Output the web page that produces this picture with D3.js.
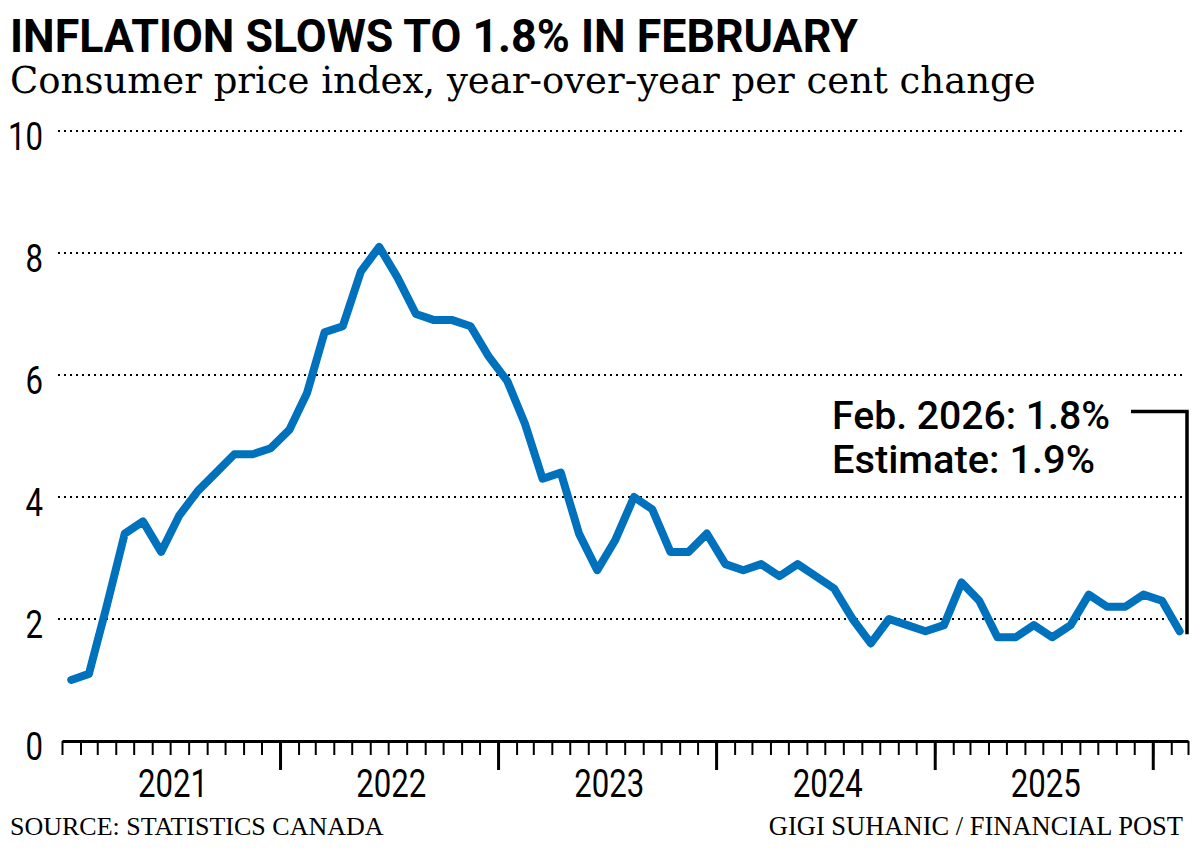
<!DOCTYPE html>
<html>
<head>
<meta charset="utf-8">
<script src="https://cdn.jsdelivr.net/npm/d3@7"></script>
<style>
  body { margin: 0; background: #fff; }
  .sans { font-family: Roboto, "Liberation Sans", sans-serif; }
  .serif { font-family: "Liberation Serif", serif; }
</style>
</head>
<body>
<svg id="chart" width="1200" height="852"></svg>
<script>
// monthly CPI, y/y % change, Jan 2021 .. Feb 2026
const firstMonth = new Date(2021, 0, 1)
const cpi = [
  1.0, 1.1, 2.2, 3.4, 3.6, 3.1, 3.7, 4.1, 4.4, 4.7, 4.7, 4.8,
  5.1, 5.7, 6.7, 6.8, 7.7, 8.1, 7.6, 7.0, 6.9, 6.9, 6.8, 6.3,
  5.9, 5.2, 4.3, 4.4, 3.4, 2.8, 3.3, 4.0, 3.8, 3.1, 3.1, 3.4,
  2.9, 2.8, 2.9, 2.7, 2.9, 2.7, 2.5, 2.0, 1.6, 2.0, 1.9, 1.8,
  1.9, 2.6, 2.3, 1.7, 1.7, 1.9, 1.7, 1.9, 2.4, 2.2, 2.2, 2.4,
  2.3, 1.8
]
const years = ["2021", "2022", "2023", "2024", "2025"]
const yTicks = [0, 2, 4, 6, 8, 10]
const title = "INFLATION SLOWS TO 1.8% IN FEBRUARY"
const subtitle = "Consumer price index, year-over-year per cent change"
const source = "SOURCE: STATISTICS CANADA"
const credit = "GIGI SUHANIC / FINANCIAL POST"
const note = ["Feb. 2026: 1.8%", "Estimate: 1.9%"]

let data = cpi.map(function(v, i) {
  let d = d3.timeMonth.offset(firstMonth, i)
  return {date: d, value: v}
})

let svg = d3.select("#chart")

let x = d3.scaleTime()
  .domain([firstMonth, d3.timeMonth.offset(firstMonth, cpi.length)])
  .range([62, 1188])
let y = d3.scaleLinear().domain([0, 10]).range([741, 131])

// plot each month in the middle of its slot
function mid(d) {
  return (x(d) + x(d3.timeMonth.offset(d, 1))) / 2
}

// the numbers are set in a narrow face; squeeze Roboto to fit
const digitW = 17.5

// titles
svg.append("text").attr("class", "sans")
  .attr("x", 10).attr("y", 52)
  .attr("font-size", 47).attr("font-weight", 700)
  .attr("textLength", 848).attr("lengthAdjust", "spacingAndGlyphs")
  .text(title)
svg.append("text")
  .attr("x", 10).attr("y", 93)
  .attr("font-family", "DejaVu Serif").attr("font-size", 37)
  .text(subtitle)

// grid
svg.append("g").selectAll("line")
  .data(yTicks.filter(v => v > 0))
  .join("line")
  .attr("x1", 58).attr("x2", 1182)
  .attr("y1", d => y(d)).attr("y2", d => y(d))
  .attr("stroke", "#000").attr("stroke-width", 2)
  .attr("stroke-dasharray", "2,4")

svg.append("g").selectAll("text")
  .data(yTicks)
  .join("text").attr("class", "sans")
  .attr("x", 43).attr("y", d => y(d) + 19)
  .attr("text-anchor", "end").attr("font-size", 38)
  .attr("textLength", d => String(d).length * digitW).attr("lengthAdjust", "spacingAndGlyphs")
  .text(d => d)

// x axis: month ticks plus longer year ticks
let xAxis = svg.append("g").attr("transform", "translate(0,741)")
xAxis.call(d3.axisBottom(x).ticks(d3.timeMonth.every(1)).tickSize(14).tickSizeOuter(0).tickFormat(""))
xAxis.select(".domain").attr("stroke-width", 3)
xAxis.selectAll(".tick line").attr("stroke-width", 2)

let yearAxis = svg.append("g").attr("transform", "translate(0,741)")
yearAxis.call(d3.axisBottom(x)
  .tickValues(d3.timeYear.range(new Date(2022, 0, 1), x.domain()[1]))
  .tickSize(29).tickSizeOuter(0).tickFormat(""))
yearAxis.select(".domain").remove()
yearAxis.selectAll(".tick line").attr("stroke-width", 3)

svg.append("g").selectAll("text")
  .data(years)
  .join("text").attr("class", "sans")
  .attr("x", d => x(new Date(+d, 6, 1)) + 3)
  .attr("y", 797)
  .attr("text-anchor", "middle").attr("font-size", 38)
  .attr("textLength", d => d.length * digitW).attr("lengthAdjust", "spacingAndGlyphs")
  .text(d => d)

// the line
let line = d3.line().x(d => mid(d.date)).y(d => y(d.value))
svg.append("path").datum(data)
  .attr("d", line)
  .attr("fill", "none").attr("stroke", "#0071bc")
  .attr("stroke-width", 8)
  .attr("stroke-linejoin", "round").attr("stroke-linecap", "round")

// callout for the latest month
let last = data[data.length - 1]
let bx = x.range()[1] - 1
let by = y(5.4)
svg.append("path")
  .attr("d", "M" + (bx - 56) + "," + by + "H" + bx + "V" + (y(last.value) + 3))
  .attr("fill", "none").attr("stroke", "#000").attr("stroke-width", 3.5)

svg.append("g").selectAll("text")
  .data(note)
  .join("text").attr("class", "sans")
  .attr("x", bx - 355).attr("y", (d, i) => by + 17 + i * 44)
  .attr("font-size", 39).attr("font-weight", 500)
  .attr("textLength", (d, i) => i == 0 ? 278 : 263).attr("lengthAdjust", "spacingAndGlyphs")
  .text(d => d)

// footer
svg.append("text").attr("class", "serif")
  .attr("x", 10).attr("y", 835).attr("font-size", 26)
  .text(source)
svg.append("text").attr("class", "serif")
  .attr("x", 1183).attr("y", 835).attr("font-size", 26.5)
  .attr("text-anchor", "end")
  .text(credit)
</script>
</body>
</html>
